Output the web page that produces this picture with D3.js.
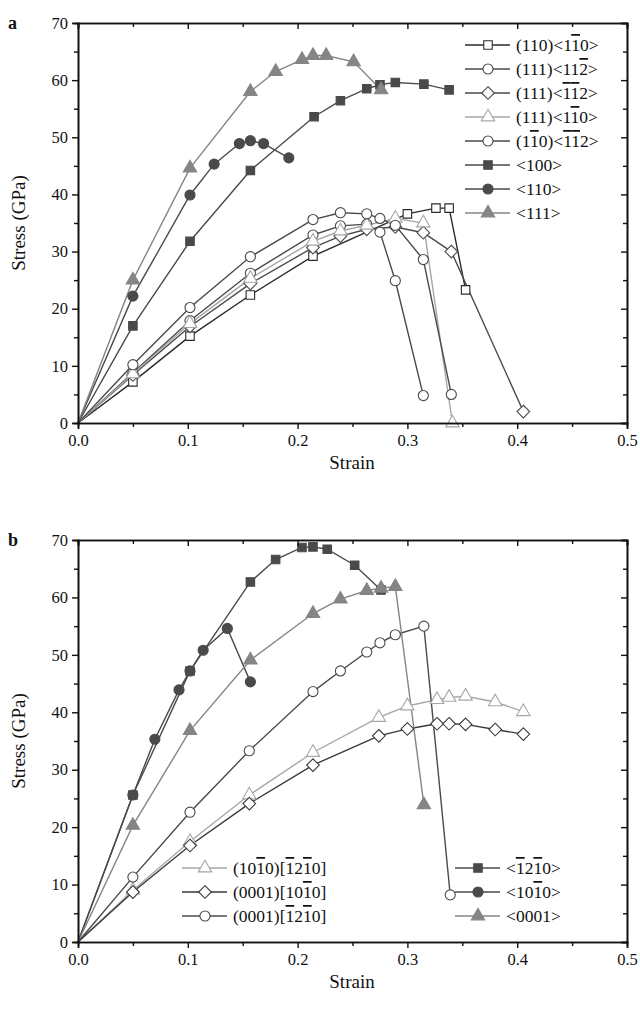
<!DOCTYPE html>
<html>
<head>
<meta charset="utf-8">
<script src="https://cdn.jsdelivr.net/npm/d3@7"></script>
<style>
  body { margin: 0; background: #fff; }
  svg text { font-family: "Liberation Serif", "DejaVu Serif", serif; fill: #111; }
</style>
</head>
<body>
<div id="chart"></div>
<script>
"use strict";
// ---- data: [strain, stress(GPa)] ----
// panel a
var a110_1m10   = [[0,0],[0.05,7.2],[0.102,15.2],[0.157,22.4],[0.214,29.2],[0.30,36.6],[0.326,37.6],[0.338,37.6],[0.353,23.3]];
var a111_11m2   = [[0,0],[0.05,8.8],[0.102,17.9],[0.157,26.2],[0.214,32.9],[0.239,34.5],[0.263,34.8],[0.275,33.4],[0.289,24.9],[0.3145,4.8]];
var a111_m1m12  = [[0,0],[0.05,8.4],[0.102,16.9],[0.157,24.4],[0.214,30.7],[0.239,32.7],[0.263,33.9],[0.289,34.3],[0.3145,33.3],[0.34,30.0],[0.4056,2.0]];
var a111_1m10   = [[0,0],[0.05,8.6],[0.102,17.4],[0.157,25.3],[0.214,31.8],[0.239,33.6],[0.263,34.6],[0.289,35.8],[0.3145,35.0],[0.341,0]];
var a1m10_m1m12 = [[0,0],[0.05,10.2],[0.102,20.2],[0.157,29.1],[0.214,35.6],[0.239,36.8],[0.263,36.6],[0.275,35.8],[0.289,34.6],[0.3145,28.6],[0.34,5.0]];
var a100 = [[0,0],[0.05,17.0],[0.102,31.8],[0.157,44.2],[0.215,53.6],[0.239,56.4],[0.263,58.5],[0.275,59.2],[0.289,59.6],[0.315,59.3],[0.338,58.3]];
var a110 = [[0,0],[0.05,22.2],[0.102,39.9],[0.124,45.3],[0.147,48.9],[0.157,49.4],[0.169,48.9],[0.192,46.4]];
var a111 = [[0,0],[0.05,25.0],[0.102,44.6],[0.157,58.0],[0.18,61.5],[0.204,63.6],[0.214,64.3],[0.226,64.3],[0.251,63.2],[0.276,58.3]];
// panel b
var b1010_m12m10 = [[0,0],[0.05,9.0],[0.102,17.5],[0.156,25.6],[0.214,33.0],[0.274,39.1],[0.30,41.1],[0.327,42.2],[0.338,42.6],[0.353,42.8],[0.38,41.8],[0.4056,40.1]];
var b0001_10m10  = [[0,0],[0.05,8.7],[0.102,16.8],[0.156,24.1],[0.214,30.8],[0.274,35.9],[0.30,37.1],[0.327,38.0],[0.338,38.0],[0.353,37.9],[0.38,37.0],[0.4056,36.2]];
var b0001_m12m10 = [[0,0],[0.05,11.3],[0.102,22.6],[0.156,33.3],[0.214,43.6],[0.239,47.2],[0.263,50.5],[0.275,52.1],[0.289,53.5],[0.315,55.0],[0.339,8.2]];
var bm12m10 = [[0,0],[0.05,25.6],[0.102,47.2],[0.157,62.7],[0.18,66.6],[0.204,68.7],[0.214,68.8],[0.227,68.4],[0.252,65.6],[0.276,61.3]];
var b10m10  = [[0,0],[0.05,25.6],[0.07,35.3],[0.092,43.9],[0.102,47.2],[0.114,50.8],[0.136,54.6],[0.157,45.3]];
var b0001   = [[0,0],[0.05,20.3],[0.102,36.8],[0.157,49.1],[0.214,57.2],[0.239,59.7],[0.263,61.2],[0.276,61.6],[0.289,61.9],[0.315,23.9]];

// labels: "~" marks an overlined digit
var labelsA = ["(110)<1~10>", "(111)<11~2>", "(111)<~1~12>", "(111)<1~10>", "(1~10)<~1~12>", "<100>", "<110>", "<111>"];
var labelsB = ["(10~10)[~12~10]", "(0001)[10~10]", "(0001)[~12~10]", "<~12~10>", "<10~10>", "<0001>"];
var xTicks = [0, 0.1, 0.2, 0.3, 0.4, 0.5];
var yTicks = [0, 10, 20, 30, 40, 50, 60, 70];

var DARK = "#4a4a4a", LIGHT = "#a6a6a6", MID = "#858585";

var seriesA = [
  {data: a110_1m10,   sym: "square",   color: "#2a2a2a", fill: "#fff"},
  {data: a111_11m2,   sym: "circle",   color: DARK,  fill: "#fff"},
  {data: a111_m1m12,  sym: "diamond",  color: DARK,  fill: "#fff"},
  {data: a111_1m10,   sym: "triangle", color: LIGHT, fill: "#fff"},
  {data: a1m10_m1m12, sym: "circle",   color: DARK,  fill: "#fff"},
  {data: a100,        sym: "square",   color: DARK,  fill: DARK},
  {data: a110,        sym: "circle",   color: DARK,  fill: DARK},
  {data: a111,        sym: "triangle", color: MID,   fill: MID}
];
var seriesB = [
  {data: b1010_m12m10, sym: "triangle", color: LIGHT, fill: "#fff"},
  {data: b0001_10m10,  sym: "diamond",  color: "#3a3a3a", fill: "#fff"},
  {data: b0001_m12m10, sym: "circle",   color: DARK,  fill: "#fff"},
  {data: bm12m10,      sym: "square",   color: DARK,  fill: DARK},
  {data: b10m10,       sym: "circle",   color: DARK,  fill: DARK},
  {data: b0001,        sym: "triangle", color: MID,   fill: MID}
];

var svg = d3.select("#chart").append("svg").attr("width", 640).attr("height", 1011);

// square diamond (a square turned by 45 degrees)
var symbolRhomb = {
  draw: function(ctx, size) {
    var r = Math.sqrt(size / 2);
    ctx.moveTo(0, -r); ctx.lineTo(r, 0); ctx.lineTo(0, r); ctx.lineTo(-r, 0); ctx.closePath();
  }
};
var symbols = {
  square: d3.symbolSquare, circle: d3.symbolCircle,
  diamond: symbolRhomb, triangle: d3.symbolTriangle
};
var symSize = {square: 72, circle: 80, diamond: 80, triangle: 78};

function addLabel(textSel, str) {
  var i = 0;
  while (i < str.length) {
    var over = false;
    if (str[i] === "~") { over = true; i++; }
    var t = textSel.append("tspan").text(str[i]);
    if (over) t.style("text-decoration", "overline");
    i++;
  }
}

function drawMarker(g, s, x, y) {
  g.append("path")
    .attr("d", d3.symbol().type(symbols[s.sym]).size(symSize[s.sym])())
    .attr("transform", "translate(" + x + "," + y + ")")
    .attr("fill", s.fill).attr("stroke", s.color).attr("stroke-width", 1.1);
}

function drawPanel(opt) {
  var x = d3.scaleLinear().domain([0, 0.5]).range([78, 627]);
  var y = d3.scaleLinear().domain([0, 70]).range([opt.bottom, opt.top]);
  var g = svg.append("g");

  // series
  var line = d3.line().x(function(d) { return x(d[0]); }).y(function(d) { return y(d[1]); });
  opt.series.forEach(function(s) {
    g.append("path").attr("d", line(s.data)).attr("fill", "none")
      .attr("stroke", s.color).attr("stroke-width", 1.4);
  });
  opt.series.forEach(function(s) {
    s.data.forEach(function(d) {
      if (d[0] === 0 && d[1] === 0) return;
      drawMarker(g, s, x(d[0]), y(d[1]));
    });
  });

  // axes
  var minorX = d3.range(0.05, 0.5, 0.1);
  var minorY = d3.range(5, 70, 10);
  var bottomAx = d3.axisBottom(x).tickValues(xTicks).tickSize(6).tickPadding(5).tickFormat(d3.format(".1f"));
  var leftAx = d3.axisLeft(y).tickValues(yTicks).tickSize(6).tickPadding(4).tickFormat(d3.format("d"));
  g.append("g").attr("transform", "translate(0," + opt.bottom + ")").call(bottomAx);
  g.append("g").attr("transform", "translate(78,0)").call(leftAx);
  g.append("g").attr("transform", "translate(0," + opt.bottom + ")")
    .call(d3.axisBottom(x).tickValues(minorX).tickSize(4).tickFormat(""));
  g.append("g").attr("transform", "translate(78,0)")
    .call(d3.axisLeft(y).tickValues(minorY).tickSize(4).tickFormat(""));
  // mirrored top/right with inward ticks
  g.append("g").attr("transform", "translate(0," + opt.top + ")")
    .call(d3.axisBottom(x).tickValues(xTicks).tickSize(6).tickFormat(""));
  g.append("g").attr("transform", "translate(0," + opt.top + ")")
    .call(d3.axisBottom(x).tickValues(minorX).tickSize(4).tickFormat(""));
  g.append("g").attr("transform", "translate(627,0)")
    .call(d3.axisLeft(y).tickValues(yTicks).tickSize(6).tickFormat(""));
  g.append("g").attr("transform", "translate(627,0)")
    .call(d3.axisLeft(y).tickValues(minorY).tickSize(4).tickFormat(""));
  g.selectAll(".domain").attr("stroke", "#111").attr("stroke-width", 1.6);
  g.selectAll(".tick line").attr("stroke", "#111").attr("stroke-width", 1.4);
  g.selectAll(".tick text").attr("font-family", "Liberation Serif, serif").attr("font-size", 16.5).attr("fill", "#111");

  // titles
  g.append("text").attr("x", 352).attr("y", opt.bottom + 46).attr("text-anchor", "middle")
    .attr("font-size", 19).text("Strain");
  g.append("text").attr("transform", "translate(25," + (opt.top + opt.bottom) / 2 + ") rotate(-90)")
    .attr("text-anchor", "middle").attr("font-size", 19).text("Stress (GPa)");
  g.append("text").attr("x", 8).attr("y", opt.top + 6).attr("font-size", 18)
    .attr("font-weight", "bold").text(opt.letter);

  // legends
  opt.legends.forEach(function(L) {
    L.items.forEach(function(idx, k) {
      var s = opt.series[idx];
      var cy = L.y0 + k * 24;
      g.append("line").attr("x1", L.x0).attr("x2", L.x0 + 45).attr("y1", cy).attr("y2", cy)
        .attr("stroke", s.color).attr("stroke-width", 1.4);
      drawMarker(g, s, L.x0 + 23, cy);
      var t = g.append("text").attr("x", L.x0 + 51).attr("y", cy + 6).attr("font-size", 17.5);
      addLabel(t, opt.labels[idx]);
    });
  });
}

drawPanel({top: 23, bottom: 423, letter: "a", series: seriesA, labels: labelsA,
  legends: [{x0: 465, y0: 45, items: [0, 1, 2, 3, 4, 5, 6, 7]}]});
drawPanel({top: 540, bottom: 942, letter: "b", series: seriesB, labels: labelsB,
  legends: [{x0: 182, y0: 868, items: [0, 1, 2]}, {x0: 455, y0: 868, items: [3, 4, 5]}]});
</script>
</body>
</html>
